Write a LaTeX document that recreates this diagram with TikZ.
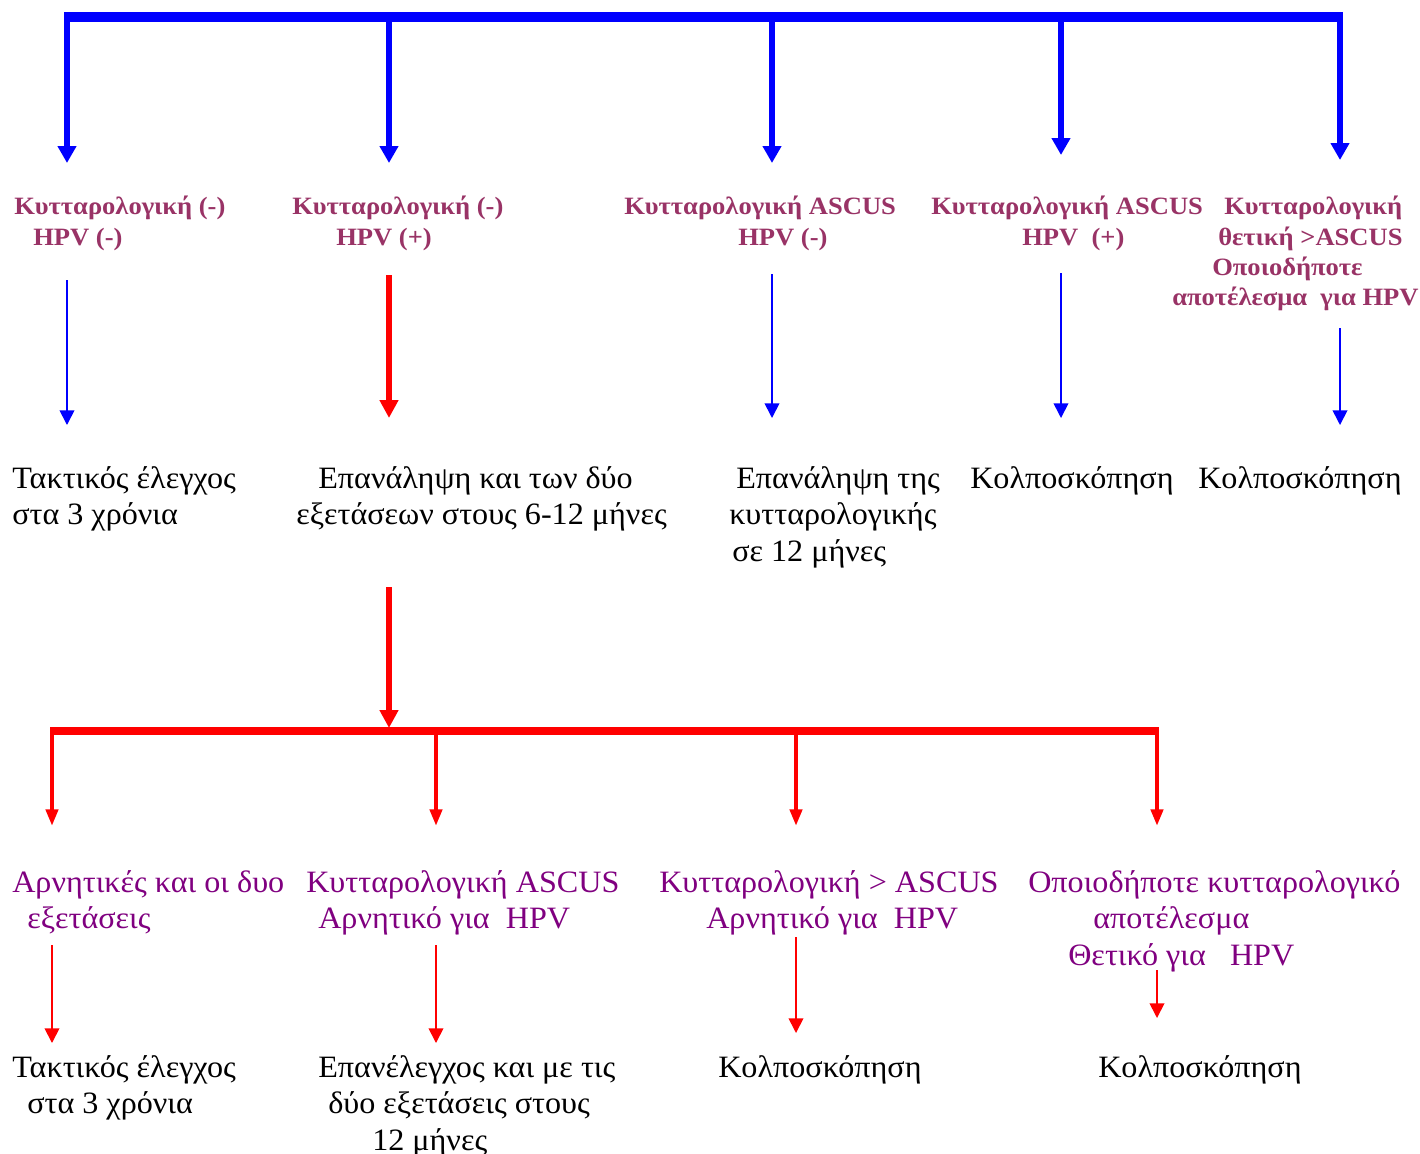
\documentclass[tikz,border=0pt]{standalone}
\usepackage{fontspec}
\setmainfont{Liberation Serif}
\newfontfamily\condface[FakeStretch=1.065]{Liberation Serif}
\newfontfamily\resface[FakeStretch=1.035]{Liberation Serif}
\usetikzlibrary{arrows.meta}
\definecolor{condcol}{HTML}{993366}
\definecolor{subcol}{HTML}{800080}
\definecolor{busblue}{HTML}{0000FF}
\definecolor{busred}{HTML}{FF0000}
\newcommand{\condfont}{\condface\fontsize{18.7}{22}\selectfont\bfseries}
\newcommand{\resfont}{\resface\fontsize{23.3}{28}\selectfont}
\begin{document}
\begin{tikzpicture}[x=0.75pt,y=-0.75pt,
  cond/.style={font=\condfont, text=condcol, inner sep=0pt, anchor=base west},
  res/.style={font=\resfont, text=black, inner sep=0pt, anchor=base west},
  sublbl/.style={font=\resfont, text=subcol, inner sep=0pt, anchor=base west},
  bluebus/.style={draw=busblue, line width=8pt},
  bluedrop/.style={draw=busblue, line width=4.3pt, -{Triangle[length=12.75pt,width=13.5pt]}},
  bluethin/.style={draw=busblue, line width=1.3pt, -{Triangle[length=11pt,width=11pt]}},
  redbus/.style={draw=busred, line width=6pt},
  redfeed/.style={draw=busred, line width=4.5pt, -{Triangle[length=13.5pt,width=13.5pt]}},
  reddrop/.style={draw=busred, line width=3.4pt, -{Triangle[length=12.5pt,width=9pt]}},
  redthin/.style={draw=busred, line width=1.3pt, -{Triangle[length=11pt,width=11pt]}}]
\useasboundingbox (0,0) rectangle (1420,1153);
\fill[white] (0,0) rectangle (1420,1153);

% ---- top blue bus ----
\coordinate (tl) at (64,17);
\coordinate (tr) at (1343,17);
\draw[bluebus] (tl) -- (tr);
\coordinate (ts1) at (67,17);   \coordinate (tt1) at (67,163);
\coordinate (ts2) at (389,17);  \coordinate (tt2) at (389,163);
\coordinate (ts3) at (772,17);  \coordinate (tt3) at (772,163);
\coordinate (ts4) at (1061,17); \coordinate (tt4) at (1061,155);
\coordinate (ts5) at (1340,17); \coordinate (tt5) at (1340,160);
\foreach \i in {1,...,5} \draw[bluedrop] (ts\i) -- (tt\i);

% ---- first level conditions ----
\node[cond] (c1a) at (14,214) {Κυτταρολογική (-)};
\node[cond] (c1b) at (33,245) {HPV (-)};
\node[cond] (c2a) at (292,214) {Κυτταρολογική (-)};
\node[cond] (c2b) at (336,245) {HPV (+)};
\node[cond] (c3a) at (624,214) {Κυτταρολογική ASCUS};
\node[cond] (c3b) at (738,245) {HPV (-)};
\node[cond] (c4a) at (931,214) {Κυτταρολογική ASCUS};
\node[cond] (c4b) at (1022,245) {HPV\ \ (+)};
\node[cond] (c5a) at (1224,214) {Κυτταρολογική};
\node[cond] (c5b) at (1218,245) {θετική >ASCUS};
\node[cond] (c5c) at (1212,275) {Οποιοδήποτε};
\node[cond] (c5d) at (1172,305) {αποτέλεσμα\ \ για HPV};

% ---- arrows to first level actions ----
\coordinate (a1s) at (67,280);   \coordinate (a1t) at (67,425);
\coordinate (a2s) at (389,275);  \coordinate (a2t) at (389,418);
\coordinate (a3s) at (772,274);  \coordinate (a3t) at (772,418);
\coordinate (a4s) at (1061,273); \coordinate (a4t) at (1061,418);
\coordinate (a5s) at (1340,328); \coordinate (a5t) at (1340,425);
\draw[bluethin] (a1s) -- (a1t);
\draw[redfeed]  (a2s) -- (a2t);
\draw[bluethin] (a3s) -- (a3t);
\draw[bluethin] (a4s) -- (a4t);
\draw[bluethin] (a5s) -- (a5t);

% ---- first level actions ----
\node[res] (r1a) at (12,488) {Τακτικός έλεγχος};
\node[res] (r1b) at (12,524) {στα 3 χρόνια};
\node[res] (r2a) at (318,488) {Επανάληψη και των δύο};
\node[res] (r2b) at (296,524) {εξετάσεων στους 6-12 μήνες};
\node[res] (r3a) at (736,488) {Επανάληψη της};
\node[res] (r3b) at (729,524) {κυτταρολογικής};
\node[res] (r3c) at (732,561) {σε 12 μήνες};
\node[res] (r4a) at (970,488) {Κολποσκόπηση};
\node[res] (r5a) at (1198,488) {Κολποσκόπηση};

% ---- red bus after repeat testing ----
\coordinate (fs) at (389,587);
\coordinate (ft) at (389,728);
\draw[redfeed] (fs) -- (ft);
\coordinate (bl) at (50,731);
\coordinate (br) at (1159,731);
\draw[redbus] (bl) -- (br);
\coordinate (bs1) at (52,731);   \coordinate (bt1) at (52,826);
\coordinate (bs2) at (436,731);  \coordinate (bt2) at (436,826);
\coordinate (bs3) at (796,731);  \coordinate (bt3) at (796,826);
\coordinate (bs4) at (1157,731); \coordinate (bt4) at (1157,826);
\foreach \i in {1,...,4} \draw[reddrop] (bs\i) -- (bt\i);

% ---- second level conditions ----
\node[sublbl] (s1a) at (12,892) {Αρνητικές και οι δυο};
\node[sublbl] (s1b) at (27,928) {εξετάσεις};
\node[sublbl] (s2a) at (306,892) {Κυτταρολογική ASCUS};
\node[sublbl] (s2b) at (318,928) {Αρνητικό για\ \ HPV};
\node[sublbl] (s3a) at (659,892) {Κυτταρολογική > ASCUS};
\node[sublbl] (s3b) at (706,928) {Αρνητικό για\ \ HPV};
\node[sublbl] (s4a) at (1028,892) {Οποιοδήποτε κυτταρολογικό};
\node[sublbl] (s4b) at (1093,928) {αποτέλεσμα};
\node[sublbl] (s4c) at (1068,965) {Θετικό για\ \ \ HPV};

% ---- arrows to second level actions ----
\coordinate (d1s) at (52,945);   \coordinate (d1t) at (52,1043);
\coordinate (d2s) at (436,945);  \coordinate (d2t) at (436,1043);
\coordinate (d3s) at (796,937);  \coordinate (d3t) at (796,1033);
\coordinate (d4s) at (1157,970); \coordinate (d4t) at (1157,1018);
\foreach \i in {1,...,4} \draw[redthin] (d\i s) -- (d\i t);

% ---- second level actions ----
\node[res] (e1a) at (12,1077) {Τακτικός έλεγχος};
\node[res] (e1b) at (27,1113) {στα 3 χρόνια};
\node[res] (e2a) at (318,1077) {Επανέλεγχος και με τις};
\node[res] (e2b) at (328,1113) {δύο εξετάσεις στους};
\node[res] (e2c) at (372,1150) {12 μήνες};
\node[res] (e3a) at (718,1077) {Κολποσκόπηση};
\node[res] (e4a) at (1098,1077) {Κολποσκόπηση};
\end{tikzpicture}
\end{document}
